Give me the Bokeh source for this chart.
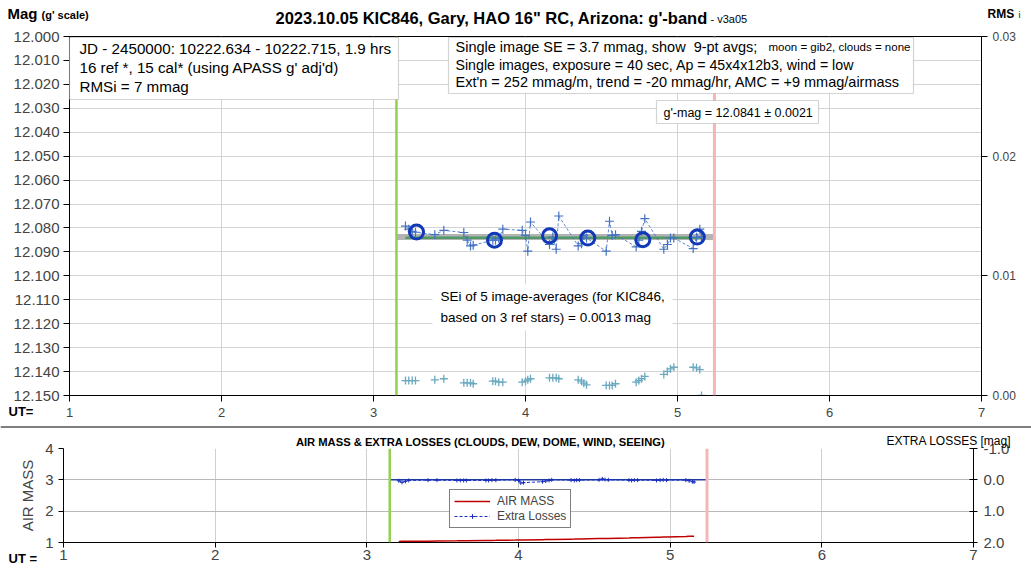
from bokeh.plotting import figure
from bokeh.models import (Range1d, LinearAxis, Span, Label, BoxAnnotation, FixedTicker,
                          PrintfTickFormatter, Legend, LegendItem)
from bokeh.embed import file_html
from bokeh.resources import INLINE

FONT = "Liberation Sans"

# ---------------- data ----------------
ut = [3.2105, 3.2322, 3.2546, 3.2763, 3.4033, 3.4625, 3.5941, 3.6164, 3.6382, 3.6559,
      3.7849, 3.8026, 3.8243, 3.8507, 3.9783, 4.0000, 4.0151, 4.0329, 4.1579, 4.1796,
      4.2020, 4.2191, 4.3467, 4.3684, 4.3836, 4.4013, 4.5309, 4.5526, 4.5704, 4.5921,
      4.7283, 4.7454, 4.7632, 4.7849, 4.9099, 4.9336, 4.9539, 4.9757, 5.1033, 5.1250,
      5.1467, 5.1579]
mag_single = [12.0792, 12.0805, 12.0814, 12.0818, 12.0828, 12.0810, 12.0819, 12.0851, 12.0875, 12.0872,
              12.0851, 12.0851, 12.0843, 12.0805, 12.0810, 12.0831, 12.0897, 12.0775, 12.0869, 12.0838,
              12.0889, 12.0750, 12.0875, 12.0866, 12.0831, 12.0842, 12.0897, 12.0772, 12.0831, 12.0828,
              12.0879, 12.0851, 12.0814, 12.0761, 12.0889, 12.0869, 12.0842, 12.0842, 12.0886, 12.0839,
              12.0805, 12.0837]
rms_i = [0.00125, 0.00125, 0.00125, 0.00125, 0.00131, 0.00140, 0.00106, 0.00106, 0.00106, 0.00098,
         0.00120, 0.00120, 0.00111, 0.00111, 0.00111, 0.00120, 0.00131, 0.00140, 0.00148, 0.00148,
         0.00148, 0.00140, 0.00131, 0.00120, 0.00103, 0.00089, 0.00084, 0.00084, 0.00084, 0.00098,
         0.00111, 0.00125, 0.00140, 0.00159, 0.00176, 0.00201, 0.00223, 0.00236, 0.00236, 0.00231,
         0.00217, 0.0]
avg_ut = [3.283, 3.796, 4.158, 4.410, 4.772, 5.130]
avg_mag = [12.0817, 12.0851, 12.0833, 12.0842, 12.0849, 12.0838]
air_mass = [1.035, 1.036, 1.037, 1.038, 1.043, 1.046, 1.052, 1.054, 1.055, 1.056,
            1.064, 1.065, 1.067, 1.068, 1.077, 1.079, 1.080, 1.082, 1.091, 1.093,
            1.095, 1.096, 1.107, 1.109, 1.111, 1.112, 1.125, 1.127, 1.129, 1.131,
            1.146, 1.148, 1.150, 1.153, 1.168, 1.171, 1.174, 1.177, 1.194, 1.197,
            1.200, 1.202]
extra_loss = [0.03, 0.08, 0.05, 0.02, 0.01, 0.01, 0.02, 0.02, 0.02, 0.02,
              0.02, 0.02, 0.01, 0.01, 0.00, 0.02, 0.10, 0.09, 0.06, 0.04,
              0.02, 0.00, 0.01, 0.02, 0.01, 0.01, 0.00, -0.03, -0.01, 0.00,
              0.01, 0.02, 0.01, 0.01, 0.02, 0.01, 0.00, 0.01, 0.01, 0.03,
              0.06, 0.07]
mean_mag = 12.0841
band_mag = 12.0838
start_ut = 3.151
end_ut = 5.243

ut_ticks = [1, 2, 3, 4, 5, 6, 7]
mag_ticks = [12.000, 12.010, 12.020, 12.030, 12.040, 12.050, 12.060, 12.070,
             12.080, 12.090, 12.100, 12.110, 12.120, 12.130, 12.140, 12.150]
rms_ticks = [0.00, 0.01, 0.02, 0.03]
am_ticks = [1, 2, 3, 4]
loss_ticks = [-1.0, 0.0, 1.0, 2.0]

W = 1031


def style_axis(ax, size, tick_in=0, tick_out=6, standoff=5):
    ax.major_label_text_font = FONT
    ax.major_label_text_font_size = size
    ax.axis_line_color = "black"
    ax.major_tick_line_color = "black"
    ax.minor_tick_line_color = None
    ax.major_tick_in = tick_in
    ax.major_tick_out = tick_out
    ax.major_label_standoff = standoff


# ---------------- top chart ----------------
p = figure(width=W, height=426, x_range=Range1d(1, 7), y_range=Range1d(12.15, 12.0),
           output_backend="svg", toolbar_location=None,
           min_border_left=69, min_border_right=50, min_border_top=36, min_border_bottom=31)
p.outline_line_color = "black"
p.extra_y_ranges = {"rms": Range1d(0, 0.03)}
p.xaxis.ticker = FixedTicker(ticks=ut_ticks)
p.yaxis.ticker = FixedTicker(ticks=mag_ticks)
p.yaxis.formatter = PrintfTickFormatter(format="%.3f")
style_axis(p.yaxis[0], "15px", standoff=4)
style_axis(p.xaxis[0], "13px", standoff=6)

rax = LinearAxis(y_range_name="rms", ticker=FixedTicker(ticks=rms_ticks),
                 formatter=PrintfTickFormatter(format="%.2f"))
style_axis(rax, "12px", standoff=5)
p.add_layout(rax, "right")

p.xgrid.ticker = FixedTicker(ticks=ut_ticks)
p.ygrid.ticker = FixedTicker(ticks=mag_ticks)
p.xgrid.grid_line_color = "#d4d4d4"
p.ygrid.grid_line_color = "#d4d4d4"

p.line(x=[start_ut, end_ut], y=[band_mag, band_mag], line_color="#a6a6a6", line_width=6, line_alpha=0.85)
p.line(x=[ut[0], ut[-1]], y=[mean_mag, mean_mag], line_color="#4f9a66", line_width=2.5)
p.line(x=ut, y=mag_single, line_color="#4472c4", line_dash="3 2", line_width=1, line_alpha=0.85)
p.scatter(x=ut, y=mag_single, marker="cross", size=9, line_color="#4472c4", line_width=1.2)
p.scatter(x=avg_ut, y=avg_mag, marker="circle", size=14, fill_color=None,
          line_color="#1038b8", line_width=3)
p.scatter(x=ut, y=rms_i, y_range_name="rms", marker="cross", size=8,
          line_color="#6aa9c0", line_width=1.3)
p.add_layout(Span(location=start_ut, dimension="height", line_color="#92d050", line_width=2.5))
p.add_layout(Span(location=end_ut, dimension="height", line_color="#f4b6b6", line_width=3))
p.styles = {"position": "absolute", "left": "0px", "top": "0px"}

# ---------------- lower chart ----------------
p2 = figure(width=W, height=142, x_range=Range1d(1, 7), y_range=Range1d(1, 4),
            output_backend="svg", toolbar_location=None,
            min_border_left=63, min_border_right=58, min_border_top=22, min_border_bottom=26)
p2.outline_line_color = None
p2.extra_y_ranges = {"loss": Range1d(2.0, -1.0)}
p2.xaxis.ticker = FixedTicker(ticks=ut_ticks)
p2.yaxis.ticker = FixedTicker(ticks=am_ticks)
p2.xgrid.ticker = FixedTicker(ticks=ut_ticks)
p2.ygrid.ticker = FixedTicker(ticks=am_ticks)
p2.xgrid.grid_line_color = "#cfcfcf"
p2.ygrid.grid_line_color = "#b8b8b8"
style_axis(p2.xaxis[0], "15px", tick_out=5, standoff=2)
style_axis(p2.yaxis[0], "15px", tick_out=5, standoff=5)
p2.yaxis.axis_label = "AIR MASS"
p2.yaxis.axis_label_text_font = FONT
p2.yaxis.axis_label_text_font_size = "15px"
p2.yaxis.axis_label_text_font_style = "normal"
p2.yaxis.axis_label_standoff = 6

rax2 = LinearAxis(y_range_name="loss", ticker=FixedTicker(ticks=loss_ticks),
                  formatter=PrintfTickFormatter(format="%.1f"))
style_axis(rax2, "15px", tick_in=4, tick_out=4, standoff=6)
p2.add_layout(rax2, "right")

p2.line(x=[start_ut, end_ut], y=[0.0, 0.0], y_range_name="loss", line_color="#1f3d99", line_width=1.5)
r_am = p2.line(x=ut, y=air_mass, line_color="#c00000", line_width=1.5)
r_el = p2.line(x=ut, y=extra_loss, y_range_name="loss", line_color="#1a2fc0",
               line_dash="3 2", line_width=1)
r_elp = p2.scatter(x=ut, y=extra_loss, y_range_name="loss", marker="cross", size=4,
                   line_color="#1a2fc0", line_width=1)
p2.add_layout(Span(location=start_ut, dimension="height", line_color="#92d050", line_width=2.5))
p2.add_layout(Span(location=end_ut, dimension="height", line_color="#f4b6b6", line_width=3))

legend = Legend(items=[LegendItem(label="AIR MASS", renderers=[r_am]),
                       LegendItem(label="Extra Losses", renderers=[r_el, r_elp])],
                location=(386, 14), border_line_color="black", border_line_width=1,
                background_fill_color="white", background_fill_alpha=1.0,
                label_text_font=FONT, label_text_font_size="12px",
                glyph_width=36, glyph_height=12, label_height=12,
                padding=4, spacing=1, margin=0, label_standoff=7)
p2.add_layout(legend)
p2.styles = {"position": "absolute", "left": "0px", "top": "426px"}

# ---------------- text / box overlay (page pixel coordinates) ----------------
ov = figure(width=W, height=568, x_range=Range1d(0, W), y_range=Range1d(568, 0),
            output_backend="svg", toolbar_location=None,
            x_axis_location=None, y_axis_location=None, min_border=0)
ov.grid.visible = False
ov.outline_line_color = None
ov.background_fill_alpha = 0
ov.border_fill_alpha = 0
ov.styles = {"position": "absolute", "left": "0px", "top": "0px", "z-index": "5",
             "pointer-events": "none"}


def olabel(text, X, Y, size, bold=False, align="left"):
    ov.add_layout(Label(x=X, y=Y, text=text, text_font=FONT, text_font_size=f"{size}px",
                        text_font_style="bold" if bold else "normal",
                        text_align=align, text_baseline="middle", text_color="black"))


def obox(X0, X1, Y0, Y1, line="#707070", fill="white"):
    ov.add_layout(BoxAnnotation(left=X0, right=X1, top=Y0, bottom=Y1,
                                fill_color=fill, fill_alpha=1.0,
                                line_color=line, line_width=1.2))


# separator line between the two panels
obox(0, W, 426, 427, line=None, fill="black")

obox(69, 398, 37, 99)
obox(448, 913, 37, 93)
obox(656, 818, 100, 123)
obox(432, 672, 284, 330, line=None)

olabel("JD - 2450000: 10222.634 - 10222.715, 1.9 hrs", 79, 48, 15.2)
olabel("16 ref *, 15 cal* (using APASS g' adj'd)", 79, 67, 15.2)
olabel("RMSi = 7 mmag", 79, 86, 15.2)

olabel("Single image SE = 3.7 mmag, show\u00a0\u00a09-pt avgs;", 455, 46, 14.5)
olabel("moon = gib2, clouds = none", 768, 46, 11.5)
olabel("Single images, exposure = 40 sec, Ap = 45x4x12b3, wind = low", 455, 64, 14.2)
olabel("Ext'n = 252 mmag/m, trend = -20 mmag/hr, AMC = +9 mmag/airmass", 455, 81, 14.5)

olabel("g'-mag = 12.0841 \u00b1 0.0021", 663, 112, 12.5)

olabel("SEi of 5 image-averages (for KIC846,", 440, 296, 13.5)
olabel("based on 3 ref stars) = 0.0013 mag", 440, 317, 13.5)

olabel("2023.10.05 KIC846, Gary, HAO 16\" RC, Arizona: g'-band", 275, 17, 16.5, bold=True)
olabel("- v3a05", 710, 18, 11)
olabel("Mag", 7, 13, 15, bold=True)
olabel("(g' scale)", 41, 14, 11, bold=True)
olabel("RMS", 987, 13, 12, bold=True)
olabel("i", 1018, 14, 9)
olabel("UT=", 8, 411, 13, bold=True)

olabel("AIR MASS & EXTRA LOSSES (CLOUDS, DEW, DOME, WIND, SEEING)", 480, 441, 11.2,
       bold=True, align="center")
olabel("EXTRA LOSSES [mag]", 886, 440, 12)
olabel("UT =", 8, 558, 13, bold=True)

open("out.html", "w").write(file_html([p, p2, ov], INLINE))
